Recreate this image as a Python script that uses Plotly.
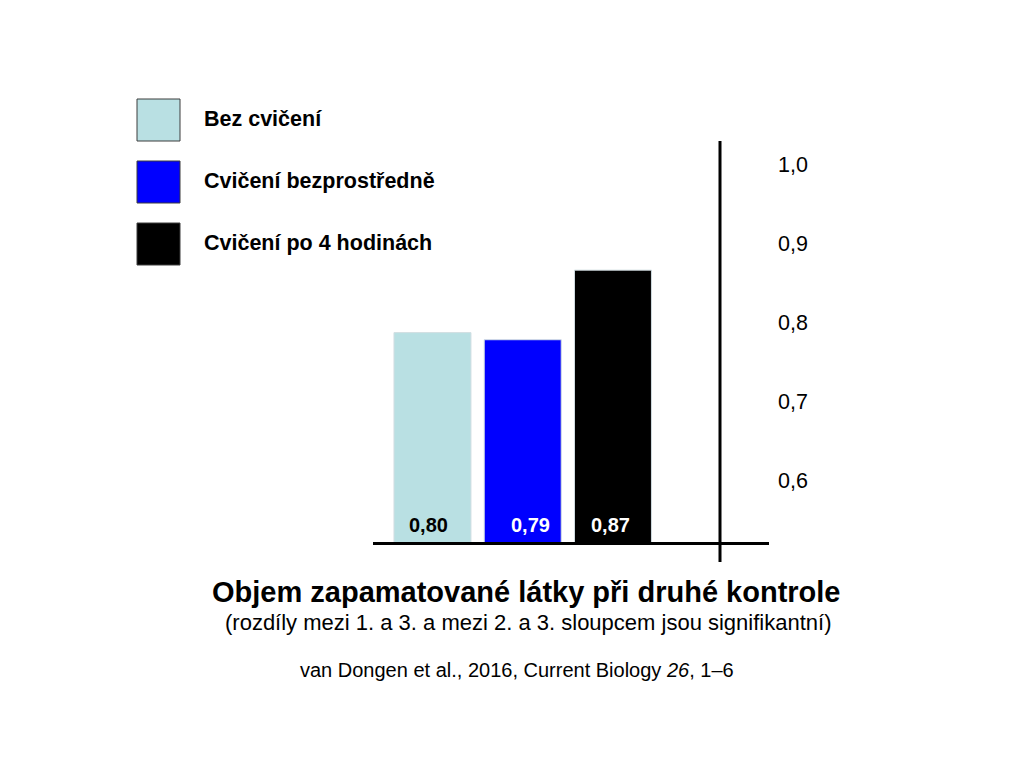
import plotly.graph_objects as go

categories = ["Bez cvičení", "Cvičení bezprostředně", "Cvičení po 4 hodinách"]
values = [0.787, 0.778, 0.866]
value_labels = ["0,80", "0,79", "0,87"]
bar_colors = ["#B9E0E3", "#0000FF", "#000000"]
label_colors = ["#000000", "#FFFFFF", "#FFFFFF"]
tick_vals = [0.6, 0.7, 0.8, 0.9, 1.0]
tick_text = ["0,6", "0,7", "0,8", "0,9", "1,0"]

title = "Objem zapamatované látky při druhé kontrole"
subtitle = "(rozdíly mezi 1. a 3. a mezi 2. a 3. sloupcem jsou signifikantní)"
citation = "van Dongen et al., 2016, Current Biology <i>26</i>, 1–6"

FONT = "Liberation Sans, Arial, sans-serif"
W, H = 1031, 757
OFF = 8  # page body margin
L, R, T, B = 373, 769, 141, 542   # plot area in screen pixels
Y_MIN, Y_MAX = 0.5222, 1.0293
label_nudge = [-4, 8, -2]  # the value labels are not quite centred in the original


def px(x):
    return (x - L) / (R - L)


def py(y):
    return (B - y) / (B - T)


fig = go.Figure(go.Bar(
    x=list(range(len(categories))), y=values, width=0.853,
    marker=dict(color=bar_colors, line=dict(color="#D2DEE2", width=1)),
    hoverinfo="skip", showlegend=False))

# value labels at the foot of each bar
for i, (lab, col) in enumerate(zip(value_labels, label_colors)):
    fig.add_annotation(x=i, y=Y_MIN, text=f"<b>{lab}</b>", showarrow=False,
                       yanchor="bottom", yshift=4, xshift=label_nudge[i],
                       font=dict(family=FONT, size=20, color=col))

# vertical axis line
fig.add_shape(type="line", xref="paper", yref="paper",
              x0=px(720), x1=px(720), y0=py(562), y1=py(141),
              line=dict(color="black", width=3))

# legend drawn by hand (big squares)
for i, (name, col) in enumerate(zip(categories, bar_colors)):
    top = 99 + i * 62
    fig.add_shape(type="rect", xref="paper", yref="paper",
                  x0=px(137), x1=px(180), y0=py(top + 42), y1=py(top),
                  fillcolor=col, line=dict(color="#3C3C3C", width=1))
    fig.add_annotation(xref="paper", yref="paper", x=px(202), y=py(top + 20),
                       text=f"<b>{name}</b>", showarrow=False,
                       xanchor="left", yanchor="middle",
                       font=dict(family=FONT, size=21.5, color="black"))

fig.add_annotation(xref="paper", yref="paper", x=px(526), y=py(592),
                   text=f"<b>{title}</b>", showarrow=False, yanchor="middle",
                   font=dict(family=FONT, size=29, color="black"))
fig.add_annotation(xref="paper", yref="paper", x=px(528), y=py(622),
                   text=subtitle, showarrow=False, yanchor="middle",
                   font=dict(family=FONT, size=22, color="black"))
fig.add_annotation(xref="paper", yref="paper", x=px(517), y=py(670),
                   text=citation, showarrow=False, yanchor="middle",
                   font=dict(family=FONT, size=20, color="black"))

fig.update_layout(
    width=W, height=H, autosize=False,
    margin=dict(l=L - OFF, r=W - R + OFF, t=T - OFF, b=H - B + OFF, pad=0),
    plot_bgcolor="white", paper_bgcolor="white",
    font=dict(family=FONT, color="black"),
    xaxis=dict(range=[-0.659, 3.729], showline=True, linecolor="black",
               linewidth=3, showticklabels=False, ticks="", showgrid=False,
               zeroline=False),
    yaxis=dict(range=[Y_MIN, Y_MAX], side="right", tickvals=tick_vals,
               ticktext=tick_text, showgrid=False, zeroline=False,
               showline=False, ticks="", ticklabelstandoff=8,
               tickfont=dict(family=FONT, size=21.5, color="black"),
               automargin=False),
)

fig.write_html("out.html")
